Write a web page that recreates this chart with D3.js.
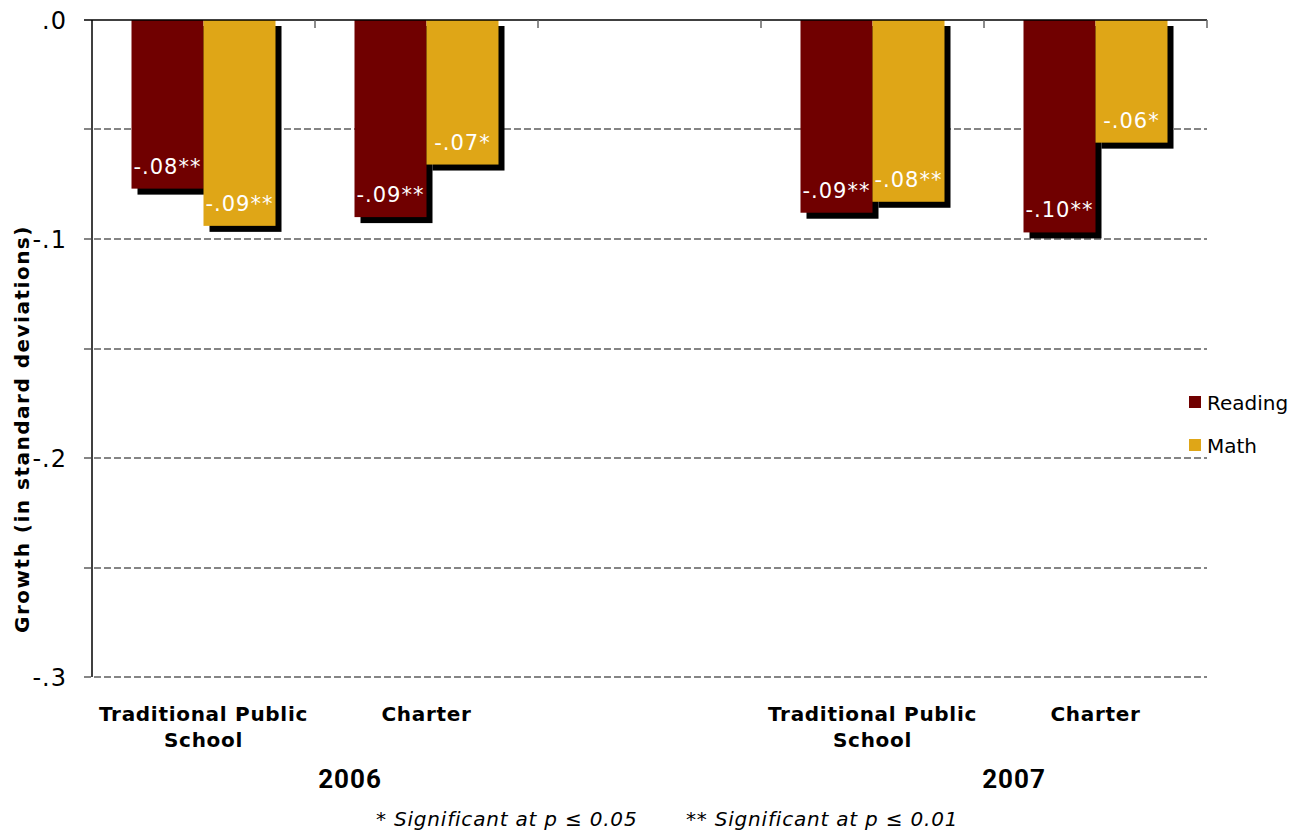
<!DOCTYPE html>
<html>
<head>
<meta charset="utf-8">
<script src="https://cdn.jsdelivr.net/npm/d3@7"></script>
<style>
  html, body { margin: 0; padding: 0; background: #fff; }
  svg { display: block; }
</style>
</head>
<body>
<svg id="chart" width="1303" height="832"></svg>
<script>
// Category slots along the x axis (the middle slot is an empty spacer between years)
const slots = ["tps2006", "charter2006", "gap", "tps2007", "charter2007"];
const slotLabels = {
  tps2006: ["Traditional Public", "School"],
  charter2006: ["Charter"],
  gap: [],
  tps2007: ["Traditional Public", "School"],
  charter2007: ["Charter"]
};
const years = [
  { label: "2006", x: 350 },
  { label: "2007", x: 1014 }
];
const series = ["Reading", "Math"];
const seriesColors = ["#700000", "#DFA617"];

// Growth values (standard deviations) per category, Reading then Math
const readingValues = [-0.077, -0.090, null, -0.088, -0.097];
const mathValues    = [-0.094, -0.066, null, -0.083, -0.056];
// Significance markers: "**" p <= 0.01, "*" p <= 0.05
const readingStars = ["**", "**", "", "**", "**"];
const mathStars    = ["**", "*", "", "**", "*"];

const yTicks = [0, -0.1, -0.2, -0.3];
const gridValues = [-0.05, -0.1, -0.15, -0.2, -0.25, -0.3];

const svg = d3.select("#chart");
const plot = { left: 92, right: 1207, top: 20, bottom: 677 };

const x = d3.scaleBand().domain(slots).range([plot.left, plot.right]).padding(0);
const barW = 72;
const xSeries = d3.scaleBand().domain(series)
  .range([0, barW * 2]).padding(0);
const y = d3.scaleLinear().domain([0, -0.3]).range([plot.top, plot.bottom]);

const fmt = v => d3.format(".2f")(v).replace("0.", ".").replace("−", "-");
const fmtTick = v => v === 0 ? ".0" : d3.format(".1f")(v).replace("0.", ".").replace("−", "-");

// Gridlines (dashed), extending slightly left of the axis like tick marks
svg.append("g").selectAll("line").data(gridValues).join("line")
  .attr("x1", plot.left - 8).attr("x2", plot.right)
  .attr("y1", d => Math.round(y(d))).attr("y2", d => Math.round(y(d)))
  .attr("stroke", "#858585").attr("stroke-width", 2)
  .attr("stroke-dasharray", "7,3");

// Build bar records
const bars = [];
slots.forEach((s, i) => {
  [readingValues, mathValues].forEach((vals, k) => {
    const v = vals[i];
    if (v == null) return;
    bars.push({
      slot: s, series: series[k], value: v,
      stars: (k === 0 ? readingStars : mathStars)[i],
      color: seriesColors[k]
    });
  });
});

const bx = d => x(d.slot) + (x.bandwidth() - barW * 2) / 2 + xSeries(d.series);

// Drop shadows first, then the coloured bars on top
const shadowOff = 6;
svg.append("g").selectAll("rect").data(bars).join("rect")
  .attr("x", d => bx(d) + shadowOff)
  .attr("y", y(0) + shadowOff)
  .attr("width", barW)
  .attr("height", d => y(d.value) - y(0))
  .attr("fill", "#000");

svg.append("g").selectAll("rect").data(bars).join("rect")
  .attr("x", d => bx(d))
  .attr("y", y(0))
  .attr("width", barW)
  .attr("height", d => y(d.value) - y(0))
  .attr("fill", d => d.color);

// Value labels inside the bars
svg.append("g").selectAll("text").data(bars).join("text")
  .attr("x", d => bx(d) + barW / 2)
  .attr("y", d => y(d.value) - 15)
  .attr("text-anchor", "middle")
  .attr("fill", "#fff")
  .attr("font-family", "DejaVu Sans, Verdana, sans-serif")
  .attr("font-size", 21)
  .attr("letter-spacing", 1)
  .text(d => fmt(d.value) + d.stars);

// Y axis spine and top (zero) axis
svg.append("line")
  .attr("x1", plot.left).attr("x2", plot.left)
  .attr("y1", plot.top).attr("y2", plot.bottom)
  .attr("stroke", "#000").attr("stroke-width", 1.5);
svg.append("line")
  .attr("x1", plot.left - 8).attr("x2", plot.right)
  .attr("y1", plot.top).attr("y2", plot.top)
  .attr("stroke", "#000").attr("stroke-width", 1.5);

// Category separator ticks on the zero axis
svg.append("g").selectAll("line").data(slots.slice(1).map(s => x(s)).concat([plot.right])).join("line")
  .attr("x1", d => d).attr("x2", d => d)
  .attr("y1", plot.top).attr("y2", plot.top + 8)
  .attr("stroke", "#666").attr("stroke-width", 1.5);

// Y tick labels
svg.append("g").selectAll("text").data(yTicks).join("text")
  .attr("x", 67)
  .attr("y", d => y(d))
  .attr("dy", "0.36em")
  .attr("text-anchor", "end")
  .attr("font-family", "DejaVu Sans, Verdana, sans-serif")
  .attr("font-size", 24)
  .attr("letter-spacing", 1)
  .attr("fill", "#000")
  .text(fmtTick);

// Y axis title
svg.append("text")
  .attr("transform", "translate(29,429) rotate(-90)")
  .attr("text-anchor", "middle")
  .attr("font-family", "DejaVu Sans, Verdana, sans-serif")
  .attr("font-weight", "bold")
  .attr("font-size", 20)
  .attr("letter-spacing", 1.5)
  .text("Growth (in standard deviations)");

// Category labels
slots.forEach(s => {
  const lines = slotLabels[s];
  const t = svg.append("text")
    .attr("text-anchor", "middle")
    .attr("font-family", "DejaVu Sans, Verdana, sans-serif")
    .attr("font-weight", "bold")
    .attr("font-size", 20)
    .attr("letter-spacing", 0.7)
    .attr("fill", "#000");
  lines.forEach((ln, i) => {
    t.append("tspan")
      .attr("x", x(s) + x.bandwidth() / 2)
      .attr("y", 721 + i * 26)
      .text(ln);
  });
});

// Year labels
svg.append("g").selectAll("text").data(years).join("text")
  .attr("x", d => d.x).attr("y", 788)
  .attr("text-anchor", "middle")
  .attr("font-family", "Liberation Sans Narrow, Roboto, sans-serif")
  .attr("font-weight", "bold")
  .attr("font-size", 26)
  .attr("letter-spacing", 1)
  .text(d => d.label);

// Legend
const legend = svg.append("g").selectAll("g").data(series).join("g")
  .attr("transform", (d, i) => `translate(1189,${396 + i * 43})`);
legend.append("rect")
  .attr("width", 12).attr("height", 12)
  .attr("fill", (d, i) => seriesColors[i]);
legend.append("text")
  .attr("x", 18).attr("y", 14)
  .attr("font-family", "DejaVu Sans, Verdana, sans-serif")
  .attr("font-size", 20)
  .attr("fill", "#000")
  .text(d => d);

// Footnote on significance levels
const notes = [
  { text: "* Significant at p \u2264 0.05", x: 376 },
  { text: "** Significant at p \u2264 0.01", x: 686 }
];
svg.append("g").selectAll("text").data(notes).join("text")
  .attr("x", d => d.x).attr("y", 826)
  .attr("font-family", "DejaVu Sans, Verdana, sans-serif")
  .attr("font-style", "italic")
  .attr("font-size", 20)
  .attr("letter-spacing", 0.8)
  .attr("fill", "#000")
  .text(d => d.text);
</script>
</body>
</html>
